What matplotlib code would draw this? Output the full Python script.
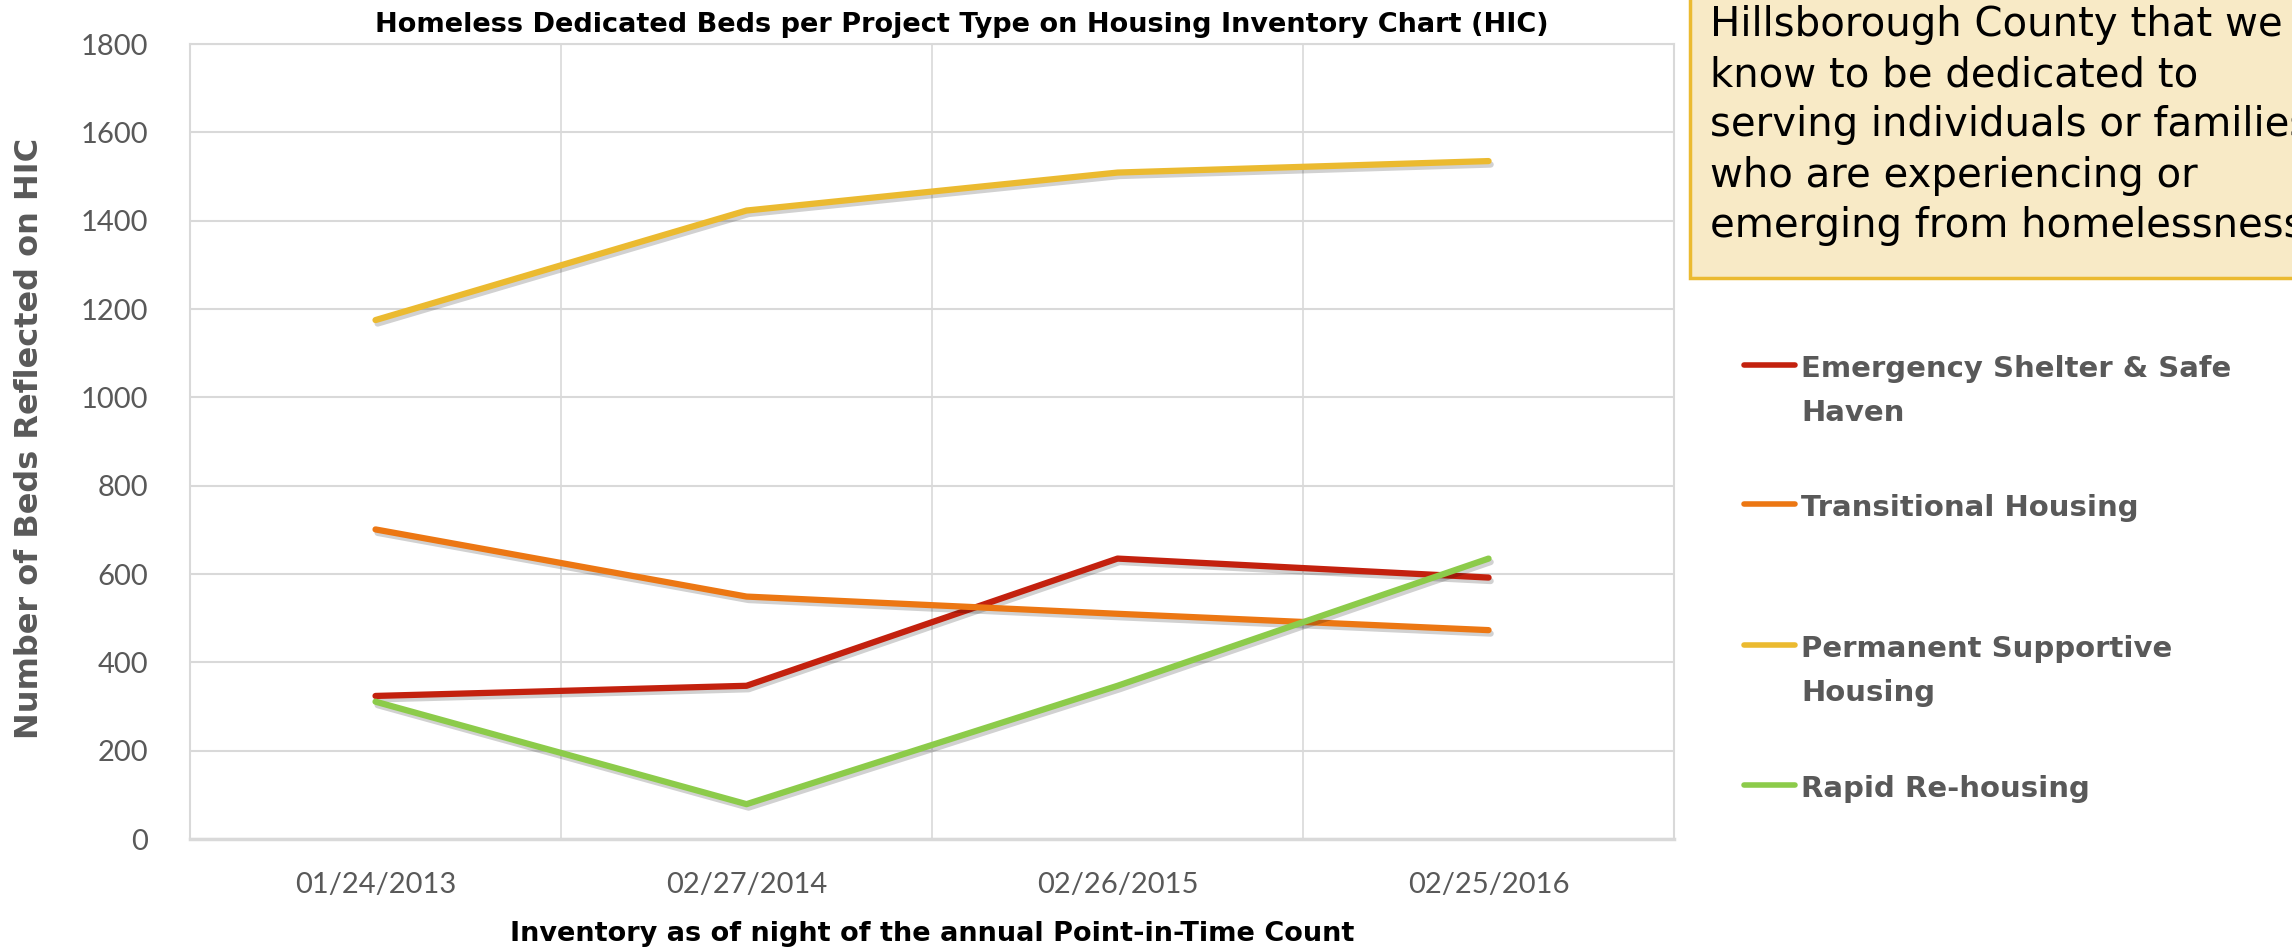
import matplotlib
matplotlib.use("Agg")
import matplotlib.pyplot as plt
import matplotlib.patheffects as pe
from matplotlib.patches import Rectangle
from matplotlib.lines import Line2D

# Data
dates = ['01/24/2013', '02/27/2014', '02/26/2015', '02/25/2016']
emergency = [324, 347, 635, 592]
transitional = [701, 549, 510, 473]
permanent = [1175, 1423, 1509, 1535]
rapid = [311, 79, 347, 635]

series_names = ['Emergency Shelter & Safe\nHaven', 'Transitional Housing',
                'Permanent Supportive\nHousing', 'Rapid Re-housing']
series_colors = ['#C3210E', '#EC7713', '#EBBA30', '#8CCB4A']
y_ticks = [0, 200, 400, 600, 800, 1000, 1200, 1400, 1600, 1800]

box_lines = ['Hillsborough County that we', 'know to be dedicated to',
             'serving individuals or families', 'who are experiencing or',
             'emerging from homelessness']

tickfont = ['Lato', 'DejaVu Sans']
wide = ['DejaVu Sans']
gray = '#595959'

fig = plt.figure(figsize=(22.92, 9.47), dpi=100)
ax = fig.add_axes([0.0829, 0.114, 0.6475, 0.8395])

x = list(range(len(dates)))
shadow = [pe.SimpleLineShadow(offset=(1.5, -2.5), shadow_color='black', alpha=0.18), pe.Normal()]
for vals, c in zip([emergency, transitional, permanent, rapid], series_colors):
    ax.plot(x, vals, color=c, lw=4.5, solid_capstyle='round', path_effects=shadow, zorder=3)

ax.set_xlim(-0.5, 3.5)
ax.set_ylim(0, 1800)
ax.set_yticks(y_ticks)
ax.set_xticks(x)
ax.set_xticklabels(dates)
ax.set_xticks([0.5, 1.5, 2.5], minor=True)
ax.grid(axis='y', color='#D9D9D9', lw=1.5)
ax.grid(axis='x', which='minor', color='#D9D9D9', lw=1.2)
ax.tick_params(which='both', length=0)
ax.tick_params(axis='x', pad=24)
ax.tick_params(axis='y', pad=30)
for lab in ax.get_xticklabels() + ax.get_yticklabels():
    lab.set_family(tickfont)
    lab.set_fontsize(21)
    lab.set_color(gray)
for s in ax.spines.values():
    s.set_color('#D9D9D9')
    s.set_linewidth(1.5)
ax.spines['bottom'].set_linewidth(2.5)

ax.set_title('Homeless Dedicated Beds per Project Type on Housing Inventory Chart (HIC)',
             family=wide, fontsize=19.5, fontweight='bold', color='black', pad=9, x=0.52)
ax.set_xlabel('Inventory as of night of the annual Point-in-Time Count',
              family=wide, fontsize=19.5, fontweight='bold', color='black', labelpad=16)
fig.text(0.013, 0.537, 'Number of Beds Reflected on HIC', rotation=90, ha='center', va='center',
         family=wide, fontsize=23, color=gray, fontweight='bold')

# note box, running off the top-right corner as in the source slide
fig.patches.append(Rectangle((1690 / 2292, 1 - 278 / 947), 0.4, 0.5, transform=fig.transFigure,
                             facecolor='#F8EAC6', edgecolor='#EBBA30', lw=2.5, zorder=0))
for i, line in enumerate(box_lines):
    fig.text(1710 / 2292, 1 - (25 + i * 50.2) / 947, line, ha='left', va='center',
             family=wide, fontsize=29, color='black')

# legend
legend_y = [365, 504, 645, 785]
for name, c, yy in zip(series_names, series_colors, legend_y):
    yf = 1 - yy / 947
    fig.add_artist(Line2D([1744 / 2292, 1795 / 2292], [yf, yf], transform=fig.transFigure,
                          color=c, lw=4, solid_capstyle='round'))
    fig.text(1801 / 2292, yf + 0.0108, name, ha='left', va='top', family=wide, fontsize=21,
             color=gray, fontweight='bold', linespacing=1.73)

fig.savefig('out.png', dpi=100)
